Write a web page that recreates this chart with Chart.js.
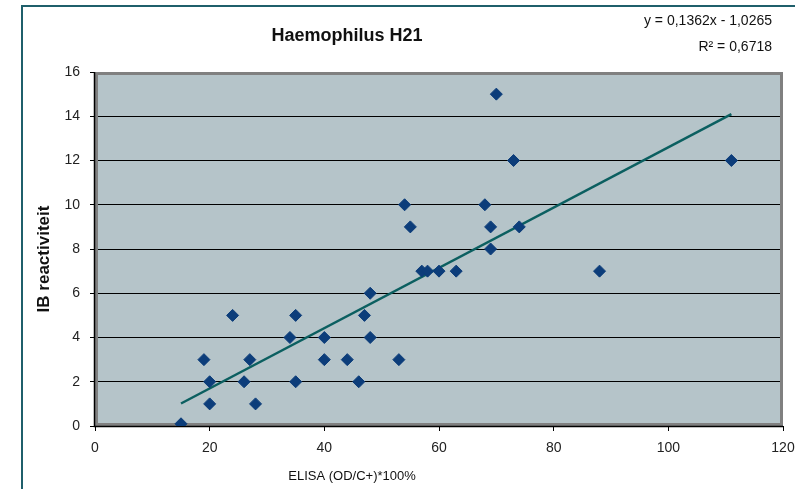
<!DOCTYPE html>
<html>
<head>
<meta charset="utf-8">
<script src="https://cdn.jsdelivr.net/npm/chart.js@4/dist/chart.umd.min.js"></script>
<style>
  body { margin: 0; background: #fff; }
  #wrap { width: 795px; height: 489px; }
</style>
</head>
<body>
<div id="wrap"><canvas id="chart" width="795" height="489"></canvas></div>
<script>
// ELISA (OD/C+)*100% vs IB reactiviteit
var elisa = [15, 19, 20, 20, 24, 26, 27, 28, 34, 35, 35, 40, 40, 44, 46, 47, 48, 48,
             53, 54, 55, 57, 58, 60, 63, 68, 69, 69, 70, 73, 74, 88, 111];
var ib    = [0.1, 3, 2, 1, 5, 2, 3, 1, 4, 5, 2, 4, 3, 3, 2, 5, 6, 4,
             3, 10, 9, 7, 7, 7, 7, 10, 9, 8, 15, 12, 9, 7, 12];

// trendline from the regression shown in the chart
var slope = 0.1362, intercept = -1.0265;
var trendX = [15, 111];

var xTicks = [0, 20, 40, 60, 80, 100, 120];
var yTicks = [0, 2, 4, 6, 8, 10, 12, 14, 16];

var title = 'Haemophilus H21';
var equation = 'y = 0,1362x - 1,0265';
var rSquared = 'R² = 0,6718';
var xTitle = 'ELISA (OD/C+)*100%';
var yTitle = 'IB reactiviteit';

var points = [];
for (var i = 0; i < elisa.length; i++) {
    points.push({x: elisa[i], y: ib[i]});
}
var trend = trendX.map(function (x) {
    return {x: x, y: slope * x + intercept};
});

var fontFam = '"Liberation Sans", Arial, sans-serif';

var decor = {
    id: 'decor',
    beforeDraw: function (chart) {
        var ctx = chart.ctx, a = chart.chartArea;
        ctx.save();
        ctx.fillStyle = '#fff';
        ctx.fillRect(0, 0, chart.width, chart.height);
        // outer frame
        ctx.strokeStyle = '#1f5f6b';
        ctx.lineWidth = 2;
        ctx.beginPath();
        ctx.moveTo(22, chart.height);
        ctx.lineTo(22, 6);
        ctx.lineTo(chart.width, 6);
        ctx.stroke();
        // plot fill
        ctx.fillStyle = '#b5c4c9';
        ctx.fillRect(a.left, a.top, a.right - a.left, a.bottom - a.top);
        ctx.restore();
    },
    beforeDatasetsDraw: function (chart) {
        var ctx = chart.ctx, a = chart.chartArea;
        ctx.save();
        ctx.strokeStyle = '#808080';
        ctx.lineWidth = 3;
        ctx.strokeRect(a.left + 1.5, a.top + 1.5, a.right - a.left - 3, a.bottom - a.top - 3);
        ctx.strokeStyle = '#000';
        ctx.lineWidth = 1.5;
        ctx.beginPath();
        ctx.moveTo(a.left - 0.5, a.top);
        ctx.lineTo(a.left - 0.5, a.bottom + 0.5);
        ctx.lineTo(a.right, a.bottom + 0.5);
        ctx.stroke();
        ctx.restore();
    },
    afterDraw: function (chart) {
        var ctx = chart.ctx;
        ctx.save();
        ctx.fillStyle = '#111';
        ctx.textBaseline = 'middle';
        ctx.textAlign = 'center';
        ctx.font = 'bold 18px ' + fontFam;
        ctx.fillText(title, 347, 36);
        ctx.font = '13px ' + fontFam;
        ctx.fillText(xTitle, 352, 476);
        ctx.textAlign = 'right';
        ctx.font = '14px ' + fontFam;
        ctx.fillText(equation, 772, 21);
        ctx.fillText(rSquared, 772, 47);
        ctx.translate(44, 259);
        ctx.rotate(-Math.PI / 2);
        ctx.textAlign = 'center';
        ctx.font = 'bold 17px ' + fontFam;
        ctx.fillText(yTitle, 0, 0);
        ctx.restore();
    }
};

new Chart(document.getElementById('chart'), {
    type: 'scatter',
    data: {
        datasets: [{
            label: 'IB',
            data: points,
            pointStyle: 'rectRot',
            pointRadius: 6,
            pointHoverRadius: 6,
            backgroundColor: '#0c3d7a',
            borderColor: '#0c3d7a',
            borderWidth: 1,
            order: 1
        }, {
            type: 'line',
            label: 'trend',
            data: trend,
            borderColor: '#0b5f60',
            borderWidth: 2.5,
            pointRadius: 0,
            fill: false,
            order: 2
        }]
    },
    options: {
        responsive: false,
        animation: false,
        events: [],
        layout: {padding: {top: 72, right: 12, left: 0, bottom: 0}},
        plugins: {
            legend: {display: false},
            title: {display: false},
            tooltip: {enabled: false}
        },
        scales: {
            x: {
                type: 'linear',
                min: 0,
                max: 120,
                afterBuildTicks: function (s) {
                    s.ticks = xTicks.map(function (v) { return {value: v}; });
                },
                grid: {drawOnChartArea: false, drawTicks: true, tickLength: 5, color: '#000', lineWidth: 1},
                border: {display: false},
                ticks: {color: '#222', padding: 9, font: {size: 14, family: fontFam}},
                afterFit: function (s) {
                    s.height = 63;
                    s.paddingLeft = 0;
                    s.paddingRight = 0;
                }
            },
            y: {
                type: 'linear',
                min: 0,
                max: 16,
                afterBuildTicks: function (s) {
                    s.ticks = yTicks.map(function (v) { return {value: v}; });
                },
                grid: {
                    color: '#000',
                    lineWidth: 1,
                    tickLength: 5,
                    drawTicks: true
                },
                border: {display: false},
                ticks: {color: '#222', padding: 10, font: {size: 14, family: fontFam}},
                afterFit: function (s) {
                    s.width = 95;
                    s.paddingTop = 0;
                    s.paddingBottom = 0;
                }
            }
        }
    },
    plugins: [decor]
});
</script>
</body>
</html>
